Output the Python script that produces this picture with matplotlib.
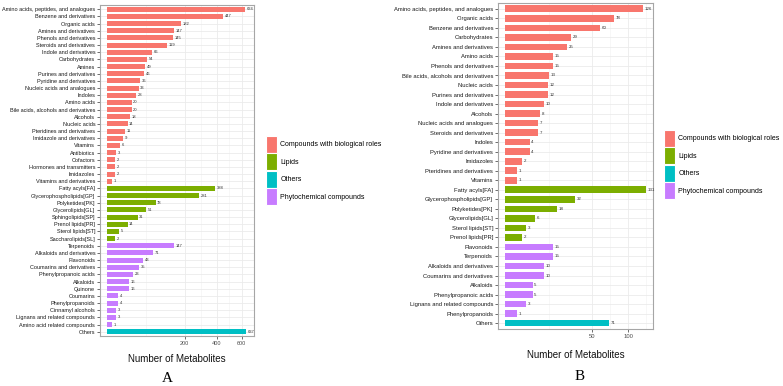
import numpy as np
import matplotlib
matplotlib.use("Agg")
import matplotlib.pyplot as plt
from matplotlib.patches import Patch

# ---------------- data ----------------
groups = ["Compounds with biological roles", "Lipids", "Others", "Phytochemical compounds"]
colors = ["#F8766D", "#7CAE00", "#00BFC4", "#C77CFF"]

a_bio_names = ["Amino acids, peptides, and analogues", "Benzene and derivatives", "Organic acids",
               "Amines and derivatives", "Phenols and derivatives", "Steroids and derivatives",
               "Indole and derivatives", "Carbohydrates", "Amines", "Purines and derivatives",
               "Pyridine and derivatives", "Nucleic acids and analogues", "Indoles", "Amino acids",
               "Bile acids, alcohols and derivatives", "Alcohols", "Nucleic acids",
               "Pteridines and derivatives", "Imidazole and derivatives", "Vitamins", "Antibiotics",
               "Cofactors", "Hormones and transmitters", "Imidazoles", "Vitamins and derivatives"]
a_bio_vals = [634, 447, 182, 147, 145, 119, 66, 54, 49, 46, 36, 33, 28, 20, 20, 18, 14, 11, 9, 6, 3, 2, 2, 2, 1]
a_lip_names = ["Fatty acyls[FA]", "Glycerophospholipids[GP]", "Polyketides[PK]", "Glycerolipids[GL]",
               "Sphingolipids[SP]", "Prenol lipids[PR]", "Sterol lipids[ST]", "Saccharolipids[SL]"]
a_lip_vals = [388, 281, 78, 51, 31, 14, 5, 2]
a_phy_names = ["Terpenoids", "Alkaloids and derivatives", "Flavonoids", "Coumarins and derivatives",
               "Phenylpropanoic acids", "Alkaloids", "Quinone", "Coumarins", "Phenylpropanoids",
               "Cinnamyl alcohols", "Lignans and related compounds", "Amino acid related compounds"]
a_phy_vals = [147, 71, 43, 35, 23, 16, 16, 4, 4, 3, 3, 1]
a_oth_names = ["Others"]
a_oth_vals = [637]

b_bio_names = ["Amino acids, peptides, and analogues", "Organic acids", "Benzene and derivatives",
               "Carbohydrates", "Amines and derivatives", "Amino acids", "Phenols and derivatives",
               "Bile acids, alcohols and derivatives", "Nucleic acids", "Purines and derivatives",
               "Indole and derivatives", "Alcohols", "Nucleic acids and analogues",
               "Steroids and derivatives", "Indoles", "Pyridine and derivatives", "Imidazoles",
               "Pteridines and derivatives", "Vitamins"]
b_bio_vals = [126, 78, 60, 29, 25, 15, 15, 13, 12, 12, 10, 8, 7, 7, 4, 4, 2, 1, 1]
b_lip_names = ["Fatty acyls[FA]", "Glycerophospholipids[GP]", "Polyketides[PK]", "Glycerolipids[GL]",
               "Sterol lipids[ST]", "Prenol lipids[PR]"]
b_lip_vals = [131, 32, 18, 6, 3, 2]
b_phy_names = ["Flavonoids", "Terpenoids", "Alkaloids and derivatives", "Coumarins and derivatives",
               "Alkaloids", "Phenylpropanoic acids", "Lignans and related compounds", "Phenylpropanoids"]
b_phy_vals = [15, 15, 10, 10, 5, 5, 3, 1]
b_oth_names = ["Others"]
b_oth_vals = [71]

a_ticks = [200, 400, 600]
b_ticks = [50, 100]
xlabel = "Number of Metabolites"
panel_labels = ["A", "B"]

plt.rcParams["font.family"] = ["Liberation Sans", "DejaVu Sans"]


def fwd(x):
    x = np.asarray(x, dtype=float)
    return np.sign(x) * np.sqrt(np.abs(x))


def inv(y):
    y = np.asarray(y, dtype=float)
    return np.sign(y) * y ** 2


def panel(ax, blocks, ticks, lab_fs, val_fs, labelpad):
    names, vals, cols = [], [], []
    for (nm, vl, gi) in blocks:
        names += nm
        vals += vl
        cols += [colors[gi]] * len(vl)
    n = len(names)
    y = np.arange(n)
    ax.set_xscale("function", functions=(fwd, inv))
    ax.barh(y, vals, height=0.7, color=cols, zorder=3)
    vmax = max(vals)
    smax = np.sqrt(vmax)
    ax.set_xlim(inv(-0.05 * smax), inv(1.05 * smax))
    ax.set_ylim(n - 0.4, -0.6)
    ax.set_yticks(y)
    ax.set_yticklabels(names, fontsize=lab_fs, color="#1a1a1a")
    for yi, v in zip(y, vals):
        ax.text(inv(np.sqrt(v) + 0.012 * smax), yi, str(v), fontsize=val_fs, va="center",
                ha="left", color="#333333", zorder=4)
    ax.set_xticks(ticks)
    ax.set_xticklabels([str(t) for t in ticks], fontsize=lab_fs, color="#4d4d4d")
    st = np.sqrt([0] + list(ticks))
    step = st[-1] - st[-2]
    st2 = list(st) + [st[-1] + step]
    minors = [((st2[i] + st2[i + 1]) / 2) ** 2 for i in range(len(st2) - 1)]
    ax.set_xticks(minors, minor=True)
    ax.tick_params(axis="x", which="minor", length=0)
    ax.tick_params(axis="both", which="major", length=2, width=0.5, color="#333333", pad=1.5)
    ax.grid(True, which="major", color="#EBEBEB", linewidth=0.6, zorder=0)
    ax.grid(True, which="minor", axis="x", color="#F2F2F2", linewidth=0.4, zorder=0)
    ax.set_axisbelow(True)
    for s in ax.spines.values():
        s.set_color("#A6A6A6")
        s.set_linewidth(0.8)
    ax.set_xlabel(xlabel, fontsize=7, labelpad=labelpad, color="#111111")


fig = plt.figure(figsize=(7.83, 3.86), dpi=100)
axA = fig.add_axes([0.1277, 0.1295, 0.1967, 0.8575])
axB = fig.add_axes([0.636, 0.148, 0.198, 0.844])

panel(axA, [(a_bio_names, a_bio_vals, 0), (a_lip_names, a_lip_vals, 1),
            (a_phy_names, a_phy_vals, 3), (a_oth_names, a_oth_vals, 2)],
      a_ticks, 4.0, 3.0, 6)
panel(axB, [(b_bio_names, b_bio_vals, 0), (b_lip_names, b_lip_vals, 1),
            (b_phy_names, b_phy_vals, 3), (b_oth_names, b_oth_vals, 2)],
      b_ticks, 4.2, 3.2, 8)

handles = [Patch(facecolor=c, edgecolor="white", linewidth=0.8) for c in colors]
for ax, anchor in [(axA, (266 / 783, 1 - 136 / 386)), (axB, (664 / 783, 1 - 130 / 386))]:
    fig.legend(handles, groups, loc="upper left", bbox_to_anchor=anchor,
               bbox_transform=fig.transFigure, frameon=False, fontsize=5,
               handlelength=1.6, handleheight=3.4, labelspacing=0.05,
               handletextpad=0.45, borderpad=0, borderaxespad=0)

fig.text(167 / 783, 1 - 378 / 386, panel_labels[0], fontsize=11,
         family=["Liberation Serif", "DejaVu Serif"], ha="center", va="center")
fig.text(580 / 783, 1 - 376 / 386, panel_labels[1], fontsize=11,
         family=["Liberation Serif", "DejaVu Serif"], ha="center", va="center")

fig.savefig("out.png", dpi=100)
